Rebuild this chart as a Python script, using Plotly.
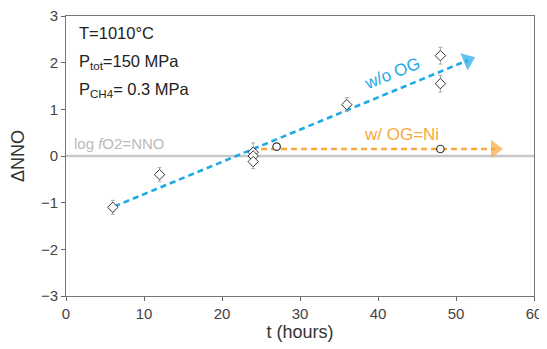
import plotly.graph_objects as go

# Data
diamond_t = [6, 12, 24, 24, 24, 36, 48, 48]
diamond_dnno = [-1.1, -0.4, 0.08, 0.0, -0.12, 1.1, 2.15, 1.55]
diamond_err = [0.15, 0.15, 0.2, 0.15, 0.15, 0.15, 0.18, 0.18]
circle_t = [27, 48]
circle_dnno = [0.2, 0.15]
trend_wo_t = [6.2, 51.5]
trend_wo_y = [-1.08, 2.05]
trend_w_t = [25, 55.0]
trend_w_y = [0.15, 0.15]
x_ticks = [0, 10, 20, 30, 40, 50, 60]
y_ticks = [-3, -2, -1, 0, 1, 2, 3]

BLUE = "#1caae6"
ORANGE = "#f9a83a"
FONT = "Liberation Sans, Arial, sans-serif"

fig = go.Figure()

# NNO reference line
fig.add_trace(go.Scatter(x=[0, 60], y=[0, 0], mode="lines",
                         line=dict(color="#c8c8c8", width=2.4), hoverinfo="skip"))

# Trend arrows
fig.add_trace(go.Scatter(x=trend_wo_t, y=trend_wo_y, mode="lines+markers",
                         line=dict(color=BLUE, width=2.6, dash="6px,4px"),
                         marker=dict(symbol="triangle-up", size=[0, 16], color=BLUE, angleref="previous",
                                     line=dict(width=0))))
fig.add_trace(go.Scatter(x=trend_w_t, y=trend_w_y, mode="lines+markers",
                         line=dict(color=ORANGE, width=2.6, dash="6px,4px"),
                         marker=dict(symbol="triangle-up", size=[0, 16], color=ORANGE, angleref="previous",
                                     line=dict(width=0))))

# Data points
fig.add_trace(go.Scatter(x=diamond_t, y=diamond_dnno, mode="markers",
                         error_y=dict(type="data", array=diamond_err, color="#aaaaaa", thickness=1, width=2),
                         marker=dict(symbol="diamond", size=8, color="white",
                                     line=dict(color="#333333", width=1))))
fig.add_trace(go.Scatter(x=circle_t, y=circle_dnno, mode="markers",
                         marker=dict(symbol="circle", size=7.5, color="white",
                                     line=dict(color="#333333", width=1.2))))

annots = [
    dict(x=1.4, y=2.64, text="T=1010°C", font=dict(size=16.5, color="#222222")),
    dict(x=1.4, y=2.02, text="P<sub>tot</sub>=150 MPa", font=dict(size=16.5, color="#222222")),
    dict(x=1.4, y=1.42, text="P<sub>CH4</sub>= 0.3 MPa", font=dict(size=16.5, color="#222222")),
    dict(x=0.8, y=0.26, text="log <i>f</i>O2=NNO", font=dict(size=15, color="#bbbbbb")),
]
for a in annots:
    fig.add_annotation(x=a["x"], y=a["y"], text=a["text"], showarrow=False,
                       xanchor="left", yanchor="middle", font=dict(family=FONT, **a["font"]))
fig.add_annotation(x=41.8, y=1.76, text="w/o OG", showarrow=False, textangle=-22,
                   font=dict(family=FONT, size=17, color=BLUE))
fig.add_annotation(x=43.0, y=0.47, text="w/ OG=Ni", showarrow=False,
                   font=dict(family=FONT, size=17, color=ORANGE))

# page body has an 8px default margin: compensate so the plot lands where the reference has it
fig.update_layout(
    width=539, height=341,
    margin=dict(l=58, r=13, t=8, b=53),
    paper_bgcolor="white", plot_bgcolor="white",
    showlegend=False,
    font=dict(family=FONT, color="#333333"),
)
fig.update_xaxes(range=[0, 60], tickvals=x_ticks, ticks="outside", ticklen=4, tickcolor="#666666",
                 showline=True, linecolor="#777777", linewidth=1, mirror=True, showgrid=False,
                 zeroline=False, automargin=False, ticklabeloverflow="allow",
                 tickfont=dict(size=15, color="#444444"),
                 title=dict(text="t (hours)", font=dict(size=18, color="#333333"), standoff=4))
fig.update_yaxes(range=[-3, 3], tickvals=y_ticks, ticks="outside", ticklen=4, tickcolor="#666666",
                 showline=True, linecolor="#777777", linewidth=1, mirror=True, showgrid=False,
                 zeroline=False, automargin=False, ticklabeloverflow="allow",
                 tickfont=dict(size=15, color="#444444"),
                 title=dict(text="ΔNNO", font=dict(size=18, color="#333333"), standoff=14))

fig.write_html("out.html")
